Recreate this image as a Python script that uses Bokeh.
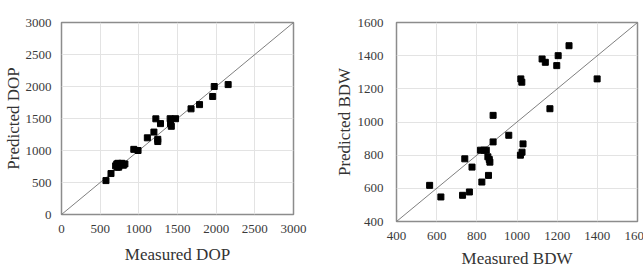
from bokeh.plotting import figure
from bokeh.models import Range1d, FixedTicker
from bokeh.layouts import row
from bokeh.embed import file_html
from bokeh.resources import INLINE

# ---- Data: DOP ----
dop_measured = [575, 640, 700, 715, 730, 745, 760, 780, 800, 820, 720, 740,
                935, 990, 1110, 1195, 1220, 1245, 1245, 1280, 1405, 1475,
                1410, 1420, 1675, 1785, 1955, 1975, 2155]
dop_predicted = [530, 640, 760, 790, 800, 770, 790, 800, 770, 790, 740, 740,
                 1018, 1000, 1198, 1288, 1495, 1175, 1140, 1420, 1497, 1497,
                 1417, 1378, 1651, 1717, 1844, 2000, 2030]
dop_ticks = [0, 500, 1000, 1500, 2000, 2500, 3000]
dop_line = [0, 3000]

# ---- Data: BDW ----
bdw_measured = [565, 621, 729, 740, 763, 776, 825, 818, 835, 847, 855, 858,
                862, 865, 881, 881, 959, 1017, 1025, 1030, 1019, 1024,
                1125, 1141, 1198, 1205, 1164, 1259, 1399]
bdw_predicted = [618, 548, 558, 778, 578, 728, 638, 830, 830, 830, 790, 678,
                 774, 758, 1040, 880, 920, 800, 818, 868, 1260, 1240,
                 1380, 1360, 1340, 1400, 1080, 1460, 1260]
bdw_ticks = [400, 600, 800, 1000, 1200, 1400, 1600]
bdw_line = [400, 1600]

FONT = "Liberation Serif"


def make_plot(xs, ys, ticks, line, xlabel, ylabel, frame_w, frame_h, borders,
              label_standoff, tick_standoff):
    p = figure(frame_width=frame_w, frame_height=frame_h,
               output_backend="svg", toolbar_location=None,
               x_range=Range1d(ticks[0], ticks[-1]), y_range=Range1d(ticks[0], ticks[-1]),
               min_border_left=borders[0], min_border_right=borders[1],
               min_border_top=borders[2], min_border_bottom=borders[3],
               styles={"flex-shrink": "0", "flex-grow": "0"})
    p.background_fill_color = "white"
    p.border_fill_color = "white"
    p.outline_line_color = "#8c8c8c"
    p.outline_line_width = 1.5
    for ax in (p.xaxis[0], p.yaxis[0]):
        ax.ticker = FixedTicker(ticks=ticks)
        ax.axis_line_color = None
        ax.major_tick_line_color = None
        ax.minor_tick_line_color = None
        ax.major_tick_out = 0
        ax.major_tick_in = 0
        ax.major_label_text_font = FONT
        ax.major_label_text_font_size = "13px"
        ax.major_label_text_color = "#3a3a3a"
        ax.axis_label_text_font = FONT
        ax.axis_label_text_font_size = "17px"
        ax.axis_label_text_font_style = "normal"
        ax.axis_label_text_color = "#333333"
    p.xaxis.axis_label = xlabel
    p.yaxis.axis_label = ylabel
    p.xaxis.major_label_standoff = tick_standoff[0]
    p.yaxis.major_label_standoff = tick_standoff[1]
    p.xaxis.axis_label_standoff = label_standoff[0]
    p.yaxis.axis_label_standoff = label_standoff[1]
    p.grid.grid_line_color = "#e3e3e3"
    p.grid.grid_line_width = 1
    p.line(line, line, line_color="#707070", line_width=0.9)
    p.scatter(xs, ys, marker="square", size=6, fill_color="black", line_color="black")
    return p


p1 = make_plot(dop_measured, dop_predicted, dop_ticks, dop_line,
               "Measured DOP", "Predicted DOP", 232, 192, (61, 27, 22, 0), (9, 0), (10, 10))
p2 = make_plot(bdw_measured, bdw_predicted, bdw_ticks, bdw_line,
               "Measured BDW", "Predicted BDW", 241, 200, (76, 20, 20, 0), (6, 1), (10, 13))

layout = row(p1, p2, spacing=0, width=657, height=268, styles={"overflow": "hidden"})
open("out.html", "w").write(file_html(layout, INLINE))
